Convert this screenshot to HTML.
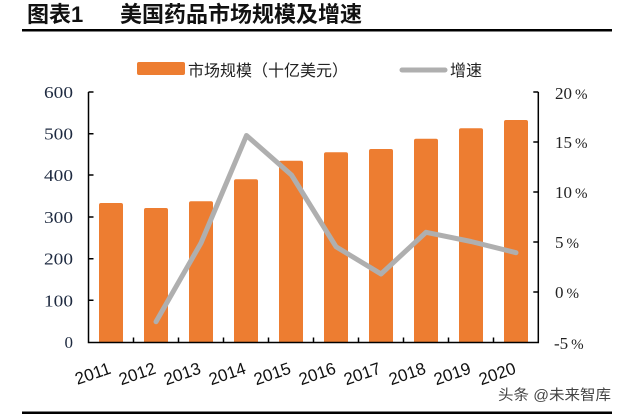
<!DOCTYPE html>
<html><head><meta charset="utf-8"><style>
html,body{margin:0;padding:0;background:#fff;}
svg{display:block;}
</style></head><body>
<svg width="623" height="417" viewBox="0 0 623 417" xmlns="http://www.w3.org/2000/svg">
<rect width="623" height="417" fill="#fff"/>
<!-- Title -->
<g font-family="'Liberation Sans','Noto Sans CJK SC',sans-serif" font-weight="bold" font-size="22" fill="#111">
<text x="27" y="22">图表1</text>
<text x="120" y="22">美国药品市场规模及增速</text>
</g>
<rect x="22" y="29" width="590" height="2.5" fill="#000"/>
<!-- Legend -->
<rect x="137" y="62" width="48" height="13" rx="2" fill="#ED7D31"/>
<text x="188" y="76" font-family="'Liberation Sans','Noto Sans CJK SC',sans-serif" font-size="16" fill="#222">市场规模（十亿美元）</text>
<line x1="402" y1="70" x2="445" y2="70" stroke="#AFAFAF" stroke-width="5" stroke-linecap="round"/>
<text x="450" y="76" font-family="'Liberation Sans','Noto Sans CJK SC',sans-serif" font-size="16" fill="#222">增速</text>
<!-- Bars -->
<g fill="#ED7D31">
<path d="M99,342 V205 Q99,203 101,203 H121 Q123,203 123,205 V342 Z"/>
<path d="M144,342 V210 Q144,208 146,208 H166 Q168,208 168,210 V342 Z"/>
<path d="M189,342 V203.3 Q189,201.3 191,201.3 H211 Q213,201.3 213,203.3 V342 Z"/>
<path d="M234,342 V181.3 Q234,179.3 236,179.3 H256 Q258,179.3 258,181.3 V342 Z"/>
<path d="M279,342 V162.7 Q279,160.7 281,160.7 H301 Q303,160.7 303,162.7 V342 Z"/>
<path d="M324,342 V154.3 Q324,152.3 326,152.3 H346 Q348,152.3 348,154.3 V342 Z"/>
<path d="M369,342 V151 Q369,149 371,149 H391 Q393,149 393,151 V342 Z"/>
<path d="M414,342 V140.7 Q414,138.7 416,138.7 H436 Q438,138.7 438,140.7 V342 Z"/>
<path d="M459,342 V130.3 Q459,128.3 461,128.3 H481 Q483,128.3 483,130.3 V342 Z"/>
<path d="M504,342 V122 Q504,120 506,120 H526 Q528,120 528,122 V342 Z"/>
</g>
<!-- Axes -->
<g stroke="#000" stroke-width="1.5" fill="none">
<path d="M88.5,92 V342.5 H538.3 V92"/>
<path d="M88.5,92 H93.5 M88.5,133.7 H93.5 M88.5,175 H93.5 M88.5,217 H93.5 M88.5,258.7 H93.5 M88.5,300.3 H93.5"/>
<path d="M538.3,92 H533.3 M538.3,142 H533.3 M538.3,192 H533.3 M538.3,242 H533.3 M538.3,292 H533.3"/>
<path d="M133.5,342.5 V337.5 M178.5,342.5 V337.5 M223.5,342.5 V337.5 M268.5,342.5 V337.5 M313.5,342.5 V337.5 M358.5,342.5 V337.5 M403.5,342.5 V337.5 M448.5,342.5 V337.5 M493.5,342.5 V337.5"/>
</g>
<!-- Line -->
<polyline points="156,321.7 201,243 246.5,135.5 291.5,175 336,246.7 381,274 426,232.3 471,241.5 516,252.7" fill="none" stroke="#AFAFAF" stroke-width="5" stroke-linejoin="round" stroke-linecap="round"/>
<!-- Left labels -->
<g font-family="'Liberation Serif',serif" font-size="17" fill="#1e2a40" text-anchor="end">
<text x="73" y="98" textLength="29" lengthAdjust="spacingAndGlyphs">600</text>
<text x="73" y="139.7" textLength="29" lengthAdjust="spacingAndGlyphs">500</text>
<text x="73" y="181" textLength="29" lengthAdjust="spacingAndGlyphs">400</text>
<text x="73" y="223" textLength="29" lengthAdjust="spacingAndGlyphs">300</text>
<text x="73" y="264.7" textLength="29" lengthAdjust="spacingAndGlyphs">200</text>
<text x="73" y="306.3" textLength="29" lengthAdjust="spacingAndGlyphs">100</text>
<text x="73" y="348">0</text>
</g>
<!-- Right labels -->
<g font-family="'Liberation Serif',serif" font-size="17" fill="#222">
<text x="555" y="99">20<tspan dx="3" font-size="15">%</tspan></text>
<text x="555" y="148">15<tspan dx="3" font-size="15">%</tspan></text>
<text x="555" y="198">10<tspan dx="3" font-size="15">%</tspan></text>
<text x="555" y="248">5<tspan dx="3" font-size="15">%</tspan></text>
<text x="555" y="298">0<tspan dx="3" font-size="15">%</tspan></text>
<text x="554" y="349">-5<tspan dx="3" font-size="15">%</tspan></text>
</g>
<!-- X labels -->
<g font-family="'Liberation Sans',sans-serif" font-size="17" fill="#111" text-anchor="end">
<text transform="translate(112,373) rotate(-19)">2011</text>
<text transform="translate(157,373) rotate(-19)">2012</text>
<text transform="translate(202,373) rotate(-19)">2013</text>
<text transform="translate(247,373) rotate(-19)">2014</text>
<text transform="translate(292,373) rotate(-19)">2015</text>
<text transform="translate(337,373) rotate(-19)">2016</text>
<text transform="translate(382,373) rotate(-19)">2017</text>
<text transform="translate(427,373) rotate(-19)">2018</text>
<text transform="translate(472,373) rotate(-19)">2019</text>
<text transform="translate(517,373) rotate(-19)">2020</text>
</g>
<!-- Watermark -->
<text x="498" y="400" font-family="'Liberation Sans','Noto Sans CJK SC',sans-serif" font-size="14.5" fill="#444" textLength="113" lengthAdjust="spacingAndGlyphs">头条 @未来智库</text>
<rect x="22" y="411.5" width="590" height="2.5" fill="#000"/>
</svg>
</body></html>
